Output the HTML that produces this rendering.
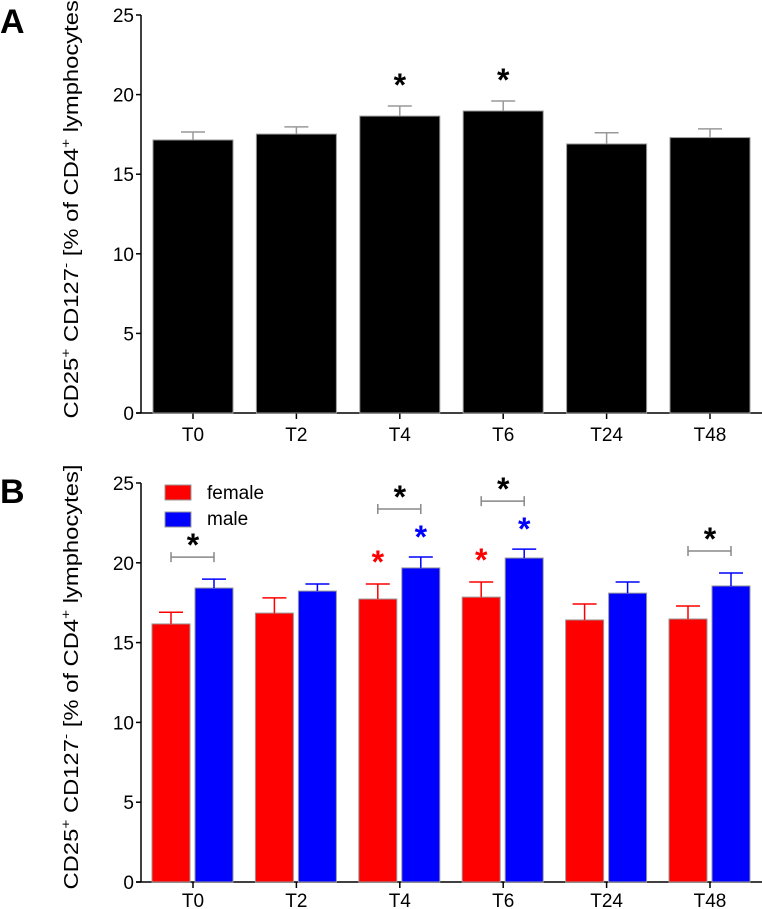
<!DOCTYPE html>
<html><head><meta charset="utf-8"><style>
html,body{margin:0;padding:0;background:#fff;}
svg{display:block;font-family:"Liberation Sans",Arial,sans-serif;}
</style></head><body>
<svg id="chart" width="762" height="909" viewBox="0 0 762 909" xmlns="http://www.w3.org/2000/svg">
<text x="0" y="33" font-size="34" font-weight="bold">A</text>
<text x="0" y="503" font-size="34" font-weight="bold">B</text>
<text transform="translate(78,206) rotate(-90)" text-anchor="middle" font-size="20" textLength="425" lengthAdjust="spacingAndGlyphs">CD25<tspan font-size="13" dy="-8">+</tspan><tspan dy="8"> CD127</tspan><tspan font-size="13" dy="-8">-</tspan><tspan dy="8"> [% of CD4</tspan><tspan font-size="13" dy="-8">+</tspan><tspan dy="8"> lymphocytes]</tspan></text>
<text transform="translate(78,677) rotate(-90)" text-anchor="middle" font-size="20" textLength="425" lengthAdjust="spacingAndGlyphs">CD25<tspan font-size="13" dy="-8">+</tspan><tspan dy="8"> CD127</tspan><tspan font-size="13" dy="-8">-</tspan><tspan dy="8"> [% of CD4</tspan><tspan font-size="13" dy="-8">+</tspan><tspan dy="8"> lymphocytes]</tspan></text>
<g id="pa"></g><g id="pb"></g>
</svg>
<script>
const categories = ["T0","T2","T4","T6","T24","T48"];
const yTicks = [0,5,10,15,20,25];
const totalMean = [17.15,17.52,18.65,18.97,16.9,17.3];
const totalErr = [17.65,17.97,19.28,19.6,17.6,17.85];
const femaleMean = [16.17,16.85,17.73,17.85,16.42,16.48];
const femaleErr = [16.9,17.8,18.67,18.8,17.42,17.29];
const maleMean = [18.42,18.23,19.68,20.3,18.1,18.55];
const maleErr = [18.98,18.67,20.36,20.86,18.8,19.36];
const sigA = [false,false,true,true,false,false];
const sigBetween = [true,false,true,true,false,true];
const sigFemale = [false,false,true,true,false,false];
const sigMale = [false,false,true,true,false,false];

const NS="http://www.w3.org/2000/svg";
function mk(parent,tag,attrs,text){const e=document.createElementNS(NS,tag);for(const k in attrs)e.setAttribute(k,attrs[k]);if(text!==undefined)e.textContent=text;parent.appendChild(e);return e;}
const x0=141, x1=762, firstC=193, step=103.4;
function xc(i){return firstC+i*step;}

function axes(g,y0px,y25px,tag,lblOff){
  const y=v=>y0px-(y0px-y25px)*v/25;
  const ax=mk(g,'line',{x1:x0,y1:y25px,x2:x0,y2:y0px,stroke:'#000','stroke-width':1.5});
  
  const bx=mk(g,'line',{x1:x0-5,y1:y0px,x2:x1,y2:y0px,stroke:'#000','stroke-width':1.5});
  
  yTicks.forEach(t=>{
    mk(g,'line',{x1:x0-5,y1:y(t),x2:x0,y2:y(t),stroke:'#000','stroke-width':1.5});
    const l=mk(g,'text',{x:x0-7,y:y(t)+7,'text-anchor':'end','font-size':19},String(t));
    
  });
  categories.forEach((c,i)=>{
    mk(g,'line',{x1:xc(i),y1:y0px,x2:xc(i),y2:y0px+6,stroke:'#000','stroke-width':1.5});
    const l=mk(g,'text',{x:xc(i),y:y0px+lblOff,'text-anchor':'middle','font-size':19},c);
    
  });
  return y;
}
function bar(g,x,w,v,e,y,fill,ecol,name){
  const r=mk(g,'rect',{x:x,y:y(v),width:w,height:y(0)-y(v),fill:fill,stroke:'#999','stroke-width':1});
  
  const cx=x+w/2;
  const eb=mk(g,'path',{d:`M${cx},${y(v)}V${y(e)}M${cx-12},${y(e)}H${cx+12}`,stroke:ecol,'stroke-width':1.5,fill:'none'});
  
}
function star(g,x,yy,col,name){
  const s=mk(g,'text',{x:x,y:yy+17,'text-anchor':'middle','font-size':32,'font-weight':'bold',fill:col},'*');
  
}
// Panel A
const ga=document.getElementById('pa');
const ya=axes(ga,413,15,'a',28);
categories.forEach((c,i)=>{
  bar(ga,xc(i)-40,80,totalMean[i],totalErr[i],ya,'#000','#999','bar-'+c);
  if(sigA[i]) star(ga,xc(i),ya(totalErr[i])-27,'#000','sig-star-'+c);
});
// Panel B
const gb=document.getElementById('pb');
const yb=axes(gb,882,483,'b',25);
categories.forEach((c,i)=>{
  const fx=xc(i)-41, mx=xc(i)+2;
  bar(gb,fx,38,femaleMean[i],femaleErr[i],yb,'#ff0000','#ff0000','bar-female-'+c);
  bar(gb,mx,38,maleMean[i],maleErr[i],yb,'#0000ff','#0000ff','bar-male-'+c);
  let top=yb(maleErr[i]);
  if(sigFemale[i]) star(gb,fx+19,yb(femaleErr[i])-28,'#ff0000','sig-female-'+c);
  if(sigMale[i]){ star(gb,mx+19,yb(maleErr[i])-26,'#0000ff','sig-male-'+c); top-=26; }
  if(sigBetween[i]){
    const by=top-22, l=fx+19, r=mx+19;
    const br=mk(gb,'path',{d:`M${l},${by-5}V${by+5}M${l},${by}H${r}M${r},${by-5}V${by+5}`,stroke:'#888','stroke-width':1.5,fill:'none'});
    
    star(gb,xc(i),by-18,'#000','sig-between-'+c);
  }
});
// legend
const lg=mk(gb,'g',{});

const lf=mk(lg,'rect',{x:165,y:485,width:26,height:15,fill:'#ff0000',stroke:'#999'});

const lft=mk(lg,'text',{x:207,y:499,'font-size':19},'female');

const lm=mk(lg,'rect',{x:165,y:512,width:26,height:15,fill:'#0000ff',stroke:'#999'});

const lmt=mk(lg,'text',{x:207,y:525,'font-size':19},'male');

</script>
</body></html>
